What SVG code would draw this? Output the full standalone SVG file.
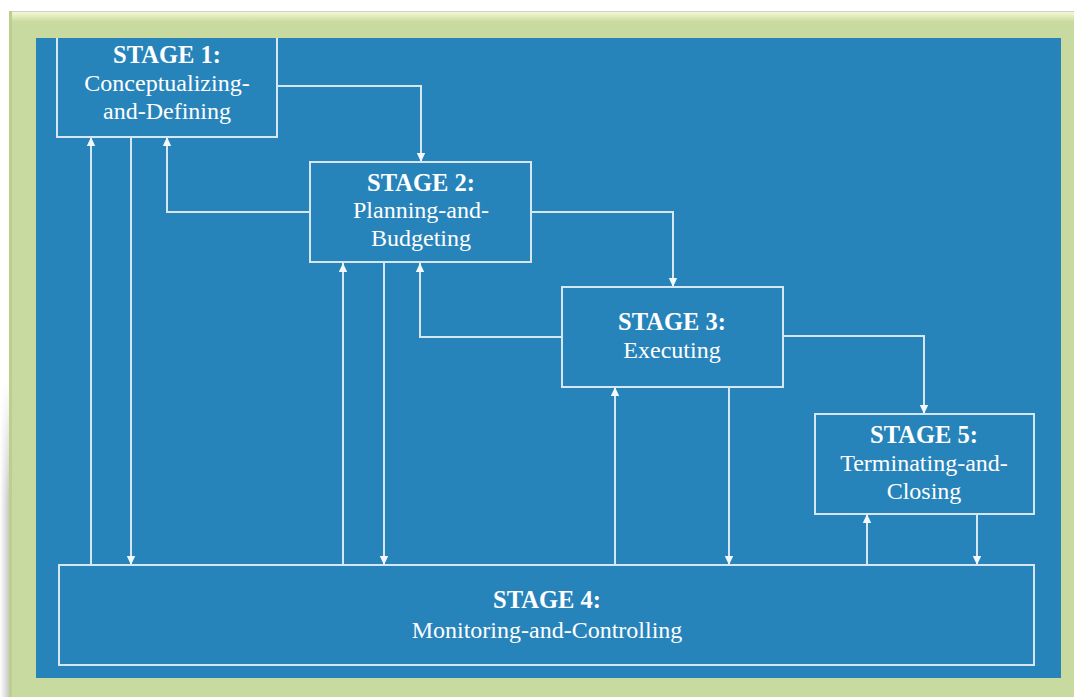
<svg xmlns="http://www.w3.org/2000/svg" width="1074" height="697" viewBox="0 0 1074 697">
  <defs>
    <style>
      .box { fill: none; stroke: #d6e7f1; stroke-width: 2; }
      .conn { fill: none; stroke: #d6e7f1; stroke-width: 2; }
      .t { font-family: "Liberation Serif", "Times New Roman", serif; fill: #ffffff; text-anchor: middle; font-size: 24px; }
      .h { font-weight: bold; font-size: 24.5px; }
    </style>
    <marker id="ah" markerWidth="10" markerHeight="10" refX="9" refY="5" orient="auto" markerUnits="userSpaceOnUse">
      <path d="M0,0.8 L9,5 L0,9.2 Z" fill="#f2f8fb"/>
    </marker>
    <linearGradient id="shadow" x1="0" y1="0" x2="1" y2="0">
      <stop offset="0" stop-color="#ffffff"/>
      <stop offset="1" stop-color="#c9c9c9"/>
    </linearGradient>
    <linearGradient id="shfade" x1="0" y1="0" x2="0" y2="1">
      <stop offset="0" stop-color="#ffffff" stop-opacity="1"/>
      <stop offset="1" stop-color="#ffffff" stop-opacity="0"/>
    </linearGradient>
    <linearGradient id="topbev" x1="0" y1="0" x2="0" y2="1">
      <stop offset="0" stop-color="#f4f8d2"/>
      <stop offset="1" stop-color="#c8daa0"/>
    </linearGradient>
  </defs>

  <rect x="0" y="0" width="1074" height="697" fill="#ffffff"/>
  <rect x="0" y="380" width="9" height="317" fill="url(#shadow)"/>
  <rect x="0" y="380" width="9" height="120" fill="url(#shfade)"/>
  <!-- frame -->
  <rect x="9" y="11" width="1065" height="686" fill="#c8daa0"/>
  <line x1="9" y1="11.5" x2="1074" y2="11.5" stroke="#cfcfcf" stroke-width="1"/>
  <rect x="10" y="12" width="1064" height="10" fill="url(#topbev)"/>
  <rect x="9" y="11" width="3" height="686" fill="#bccf8e"/>
  <rect x="36" y="38" width="1025" height="640" fill="#2784bb"/>

  <g id="connectors">
    <path class="conn" d="M277,86 H421 V162" marker-end="url(#ah)"/>
    <path class="conn" d="M310,212 H167 V137" marker-end="url(#ah)"/>
    <path class="conn" d="M531,212 H673 V287" marker-end="url(#ah)"/>
    <path class="conn" d="M562,337 H420 V263" marker-end="url(#ah)"/>
    <path class="conn" d="M783,336 H924 V414" marker-end="url(#ah)"/>
    <path class="conn" d="M91,565 V137" marker-end="url(#ah)"/>
    <path class="conn" d="M131,137 V565" marker-end="url(#ah)"/>
    <path class="conn" d="M343,565 V263" marker-end="url(#ah)"/>
    <path class="conn" d="M384,263 V565" marker-end="url(#ah)"/>
    <path class="conn" d="M615,565 V387" marker-end="url(#ah)"/>
    <path class="conn" d="M729,387 V565" marker-end="url(#ah)"/>
    <path class="conn" d="M867,565 V514" marker-end="url(#ah)"/>
    <path class="conn" d="M977,514 V565" marker-end="url(#ah)"/>
  </g>

  <g id="stage1">
    <path class="box" d="M57,38 V137 H277 V38"/>
    <text class="t h" x="167" y="63">STAGE 1:</text>
    <text class="t" x="167" y="91">Conceptualizing-</text>
    <text class="t" x="167" y="119">and-Defining</text>
  </g>

  <g id="stage2">
    <rect class="box" x="310" y="162" width="221" height="100"/>
    <text class="t h" x="421" y="191">STAGE 2:</text>
    <text class="t" x="421" y="218">Planning-and-</text>
    <text class="t" x="421" y="246">Budgeting</text>
  </g>

  <g id="stage3">
    <rect class="box" x="562" y="287" width="221" height="100"/>
    <text class="t h" x="672" y="330">STAGE 3:</text>
    <text class="t" x="672" y="358">Executing</text>
  </g>

  <g id="stage5">
    <rect class="box" x="815" y="414" width="219" height="100"/>
    <text class="t h" x="924" y="443">STAGE 5:</text>
    <text class="t" x="924" y="471">Terminating-and-</text>
    <text class="t" x="924" y="499">Closing</text>
  </g>

  <g id="stage4">
    <rect class="box" x="59" y="565" width="975" height="100"/>
    <text class="t h" x="547" y="608">STAGE 4:</text>
    <text class="t" x="547" y="638">Monitoring-and-Controlling</text>
  </g>
</svg>
